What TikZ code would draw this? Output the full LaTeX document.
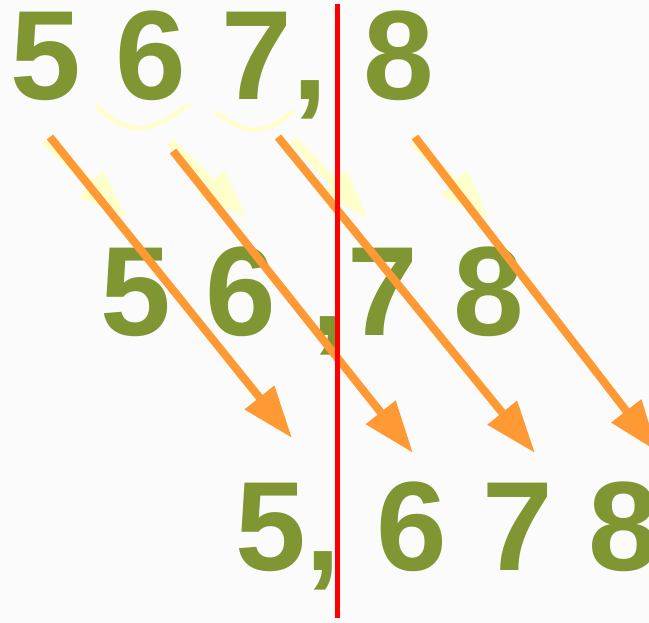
\documentclass[tikz,border=0pt]{standalone}
\usepackage{fontspec}
\setmainfont{Liberation Sans}
\usetikzlibrary{arrows.meta}
\definecolor{digitgreen}{RGB}{127,150,51}
\definecolor{moveorange}{RGB}{255,153,51}
\definecolor{hintyellow}{RGB}{255,255,204}
\definecolor{markred}{RGB}{255,0,0}
\definecolor{pagewhite}{RGB}{251,251,251}
\tikzset{
  digits/.style={anchor=base west, inner sep=0pt, text=digitgreen,
    font=\fontsize{127}{127}\selectfont\bfseries},
  movearrow/.style={draw=moveorange, line width=8pt, -{Triangle[length=52pt,width=36pt]}},
  hintarrow/.style={draw=hintyellow, line width=9pt, -{Triangle[length=50pt,width=34pt]}},
  hintbrace/.style={draw=hintyellow, line width=4.5pt, line cap=round},
}
\begin{document}
\frenchspacing
\begin{tikzpicture}[x=1pt,y=-1pt]
\fill[pagewhite] (0,0) rectangle (649,623);
\useasboundingbox (0,0) rectangle (649,623);
% the three rows
\node[digits] (row1) at (10,100) {5 6 7, 8};
\node[digits] (row2) at (100,335) {5 6 ,7 8};
\node[digits] (row3) at (235,570) {5, 6 7 8};
% braces under 6 and 7
\draw[hintbrace] (97,107) .. controls (112,120) and (127,130) .. (142,128)
                 .. controls (160,125) and (176,114) .. (188,105);
\draw[hintbrace] (217,113) .. controls (230,122) and (242,130) .. (255,130)
                 .. controls (270,129) and (283,120) .. (293,112);
% arrow ends
\foreach \i/\hx/\hy/\hX/\hY/\sx/\sy/\ex/\ey in
  {1/45/140/127/218/50/137/292/438,
   2/170/142/247/218/173/151/413/453,
   3/293/140/368/218/278/137/535/453,
   4/412/141/489/218/415/137/658/452}{
  \coordinate (h\i) at (\hx,\hy);
  \coordinate (H\i) at (\hX,\hY);
  \coordinate (m\i) at (\sx,\sy);
  \coordinate (M\i) at (\ex,\ey);
}
\foreach \i in {1,...,4} \draw[hintarrow] (h\i) -- (H\i);
\foreach \i in {1,...,4} \draw[movearrow] (m\i) -- (M\i);
% decimal point line
\draw[markred, line width=5pt] (337.5,4) -- (337.5,618);
\end{tikzpicture}
\end{document}
